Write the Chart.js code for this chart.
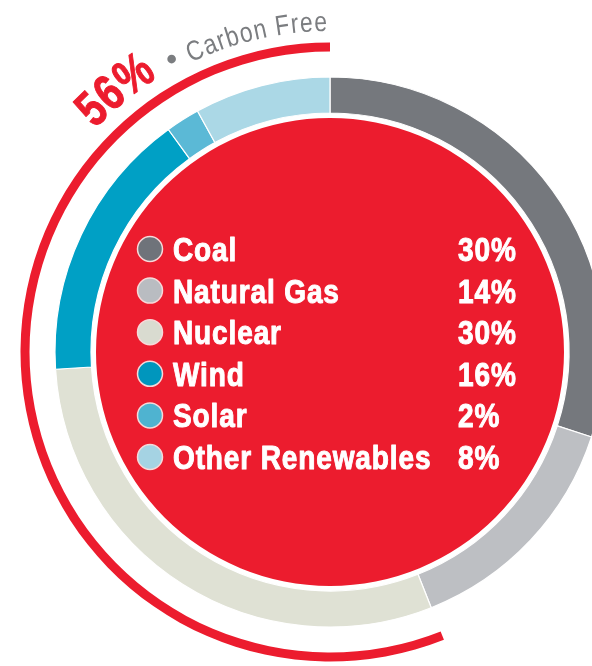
<!DOCTYPE html>
<html>
<head>
<meta charset="utf-8">
<script src="https://cdn.jsdelivr.net/npm/chart.js@4.4.0/dist/chart.umd.min.js"></script>
<style>
  html, body { margin: 0; padding: 0; background: #fff; overflow: hidden; }
  body { width: 592px; height: 666px; position: relative; }
  #mix { position: absolute; left: 0; top: 0; }
</style>
</head>
<body>
<canvas id="mix" width="660" height="704"></canvas>
<script>
// generation mix, percent of total
var sources = ['Coal', 'Natural Gas', 'Nuclear', 'Wind', 'Solar', 'Other Renewables'];
var shares = [30, 14, 30, 16, 2, 8];
var carbonFreeSources = ['Nuclear', 'Wind', 'Solar', 'Other Renewables'];

var ringColors = ['#75787d', '#bdbfc3', '#dfe1d4', '#00a0c5', '#5bb9d6', '#abd8e6'];
var dotColors = ['#6f737a', '#b9bcc1', '#d9dbd0', '#0096bd', '#4fb3d0', '#a5d3e3'];
var RED = '#ec1c2e';
var GREY_TEXT = '#7b7d80';

var total = shares.reduce(function (s, v) { return s + v; }, 0);
var carbonFree = shares.reduce(function (s, v, i) {
    return carbonFreeSources.indexOf(sources[i]) >= 0 ? s + v : s;
}, 0);

// no condensed face installed, so squeeze Liberation Sans horizontally
var FONT = '"Liberation Sans", Arial, sans-serif';

function spacer(w) {
    return { data: [1], backgroundColor: 'rgba(0,0,0,0)', borderWidth: 0, weight: w };
}

function deg(d) { return d * Math.PI / 180; }

function fillNarrow(ctx, text, x, y, sx, heavy) {
    ctx.save();
    ctx.translate(x, y);
    ctx.scale(sx, 1);
    ctx.fillText(text, 0, 0);
    if (heavy) {
        ctx.lineWidth = heavy;
        ctx.lineJoin = 'round';
        ctx.strokeText(text, 0, 0);
    }
    ctx.restore();
}

// lay text along a circle, angles clockwise from 12 o'clock
function arcTextWidth(ctx, text, sx, track) {
    var w = 0;
    for (var i = 0; i < text.length; i++) w += ctx.measureText(text[i]).width * sx + track;
    return w;
}
function arcText(ctx, text, cx, cy, r, start, sx, track, heavy) {
    var a = start;
    ctx.textAlign = 'center';
    ctx.textBaseline = 'alphabetic';
    for (var i = 0; i < text.length; i++) {
        var w = ctx.measureText(text[i]).width * sx + track;
        var mid = a + (w / 2) / r;
        ctx.save();
        ctx.translate(cx + r * Math.sin(mid), cy - r * Math.cos(mid));
        ctx.rotate(mid);
        fillNarrow(ctx, text[i], 0, 0, sx, heavy);
        ctx.restore();
        a += w / r;
    }
    return a;
}

var labelsPlugin = {
    id: 'mixLabels',
    afterDraw: function (chart) {
        var ctx = chart.ctx;
        var arc = chart.getDatasetMeta(0).data[0];
        var cx = arc.x, cy = arc.y;

        ctx.save();
        // legend inside the red disc
        var rowH = 41.6;
        ctx.font = 'bold 33px ' + FONT;
        ctx.textAlign = 'left';
        ctx.textBaseline = 'alphabetic';
        ctx.letterSpacing = '1px';
        for (var i = 0; i < sources.length; i++) {
            var y = cy - 103 + i * rowH;
            ctx.beginPath();
            ctx.arc(cx - 180, y, 12.5, 0, Math.PI * 2);
            ctx.fillStyle = dotColors[i];
            ctx.fill();
            ctx.lineWidth = 1.5;
            ctx.strokeStyle = '#f6d9d9';
            ctx.stroke();

            ctx.fillStyle = '#ffffff';
            ctx.strokeStyle = '#ffffff';
            fillNarrow(ctx, sources[i], cx - 157, y + 12, 0.85, 1);
            fillNarrow(ctx, shares[i] + '%', cx + 128, y + 12, 0.85, 1);
        }
        ctx.letterSpacing = '0px';

        // curved caption over the carbon free arc
        ctx.fillStyle = RED;
        ctx.strokeStyle = RED;
        ctx.font = 'bold 50px ' + FONT;
        arcText(ctx, Math.round(carbonFree / total * 100) + '%', cx, cy, 324, deg(-46.5), 0.8, 0.5, 1);

        var dotA = deg(-28.4);
        ctx.beginPath();
        ctx.arc(cx + 333 * Math.sin(dotA), cy - 333 * Math.cos(dotA), 4.3, 0, Math.PI * 2);
        ctx.fillStyle = GREY_TEXT;
        ctx.fill();

        ctx.font = '28px ' + FONT;
        var cap = 'Carbon Free';
        var w = arcTextWidth(ctx, cap, 0.82, 1.2);
        arcText(ctx, cap, cx, cy, 321, deg(-0.4) - w / 321, 0.82, 1.2, 0);
        ctx.restore();
    }
};

new Chart(document.getElementById('mix'), {
    type: 'doughnut',
    data: {
        labels: sources,
        datasets: [
            // outer arc marking the carbon free share
            { data: [total - carbonFree, carbonFree], backgroundColor: ['rgba(0,0,0,0)', RED], borderWidth: 0, weight: 9 },
            spacer(25.5),
            { data: shares, backgroundColor: ringColors, borderColor: '#ffffff', borderWidth: 1.2, weight: 36 },
            spacer(5),
            // red centre disc
            { data: [1], backgroundColor: RED, borderWidth: 0, weight: 234 }
        ]
    },
    options: {
        responsive: false,
        animation: false,
        events: [],
        radius: 309.5,
        cutout: 0,
        layout: { padding: 0 },
        plugins: {
            legend: { display: false },
            tooltip: { enabled: false }
        }
    },
    plugins: [labelsPlugin]
});
</script>
</body>
</html>
